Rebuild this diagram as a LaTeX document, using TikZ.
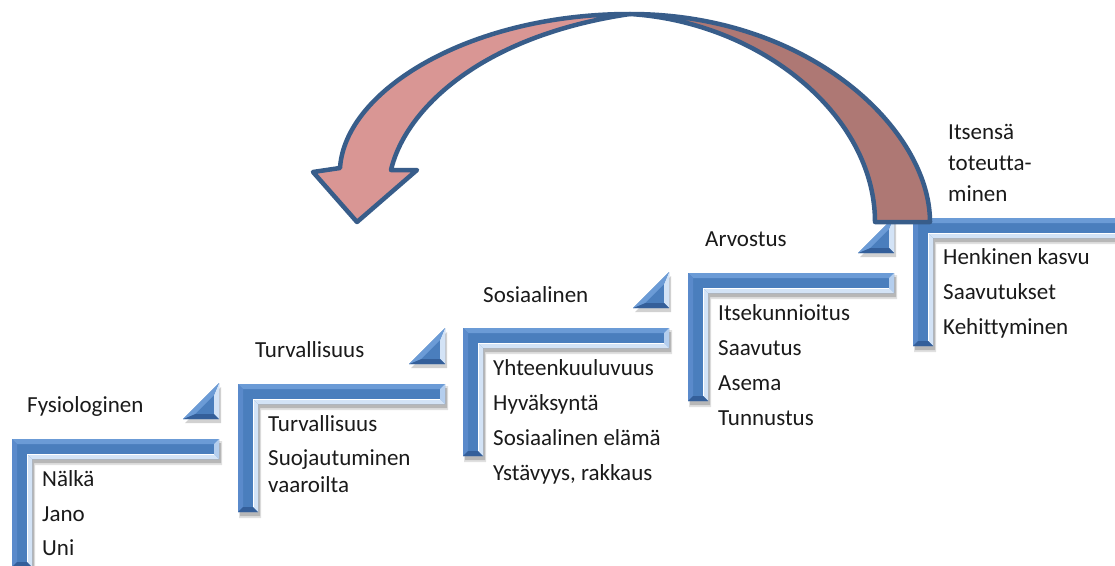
\documentclass[tikz,border=0pt]{standalone}
\usepackage{fontspec}
\setmainfont{Carlito}[Ligatures={NoCommon}]
\definecolor{txt}{HTML}{1A1A1A}
\definecolor{stairmain}{HTML}{4A7EBD}
\definecolor{stairtop}{HTML}{6B9BD6}
\definecolor{stairleft}{HTML}{5A8ACB}
\definecolor{stairlight}{HTML}{D3E3F6}
\definecolor{stairend}{HTML}{B4CEEE}
\definecolor{stairdark}{HTML}{345F9A}
\definecolor{arrowline}{HTML}{385D8A}
\definecolor{arrowlight}{HTML}{D99694}
\definecolor{arrowdark}{HTML}{AE7874}

% L-shaped bevelled stair: #1 = left x, #2 = top y, #3 = bar length
\newcommand\stairbar[3]{%
  \begin{scope}[shift={(#1,#2)}]
    \def\W{#3}\def\t{20}\def\b{5}\def\H{128}
    \fill[black,opacity=.18] (2,4) -- (\W+2,4) -- (\W+2,\t+4) -- (\t+2,\t+4) -- (\t+2,\H+4) -- (2,\H+4) -- cycle;
    \fill[black,opacity=.12] (1,2) -- (\W+3,2) -- (\W+3,\t+6) -- (\t+3,\t+6) -- (\t+3,\H+6) -- (1,\H+6) -- cycle;
    \fill[stairmain] (0,0) -- (\W,0) -- (\W,\t) -- (\t,\t) -- (\t,\H) -- (0,\H) -- cycle;
    \fill[stairtop] (0,0) -- (\W,0) -- (\W-\b,\b) -- (\b,\b) -- cycle;
    \fill[stairleft] (0,0) -- (\b,\b) -- (\b,\H-\b) -- (0,\H) -- cycle;
    \fill[stairend] (\W,0) -- (\W,\t) -- (\W-\b,\t-\b) -- (\W-\b,\b) -- cycle;
    \fill[stairlight] (\W,\t) -- (\t,\t) -- (\t-\b,\t-\b) -- (\W-\b,\t-\b) -- cycle;
    \fill[stairlight] (\t,\t) -- (\t,\H) -- (\t-\b,\H-\b) -- (\t-\b,\t-\b) -- cycle;
    \fill[stairdark] (0,\H) -- (\t,\H) -- (\t-\b,\H-\b) -- (\b,\H-\b) -- cycle;
    \draw[white,line width=1] (\W-\b,\t-\b) -- (\t-\b,\t-\b) -- (\t-\b,\H-\b);
  \end{scope}}

% small bevelled wedge: #1 = right x, #2 = bottom y
\newcommand\stairwedge[2]{%
  \begin{scope}[shift={(#1,#2)}]
    \fill[black,opacity=.18] (-34,4) -- (2,4) -- (2,-32) -- cycle;
    \fill[stairmain] (-36,0) -- (0,0) -- (0,-36) -- cycle;
    \fill[stairlight] (0,-36) -- (0,0) -- (-5,-5) -- (-5,-24) -- cycle;
    \fill[stairdark] (-36,0) -- (0,0) -- (-5,-5) -- (-24,-5) -- cycle;
    \fill[stairtop] (-36,0) -- (0,-36) -- (-5,-24) -- (-24,-5) -- cycle;
  \end{scope}}

\begin{document}
\begin{tikzpicture}[x=1pt,y=-1pt,
  lbl/.style={anchor=base west,inner sep=0pt,text=txt,font=\fontsize{23}{28}\selectfont},
  arrowpart/.style={draw=arrowline,line width=4.5pt,line join=round}]
\fill[white] (0,0) rectangle (1115,565);
\clip (0,0) rectangle (1115,565);

% stairs
\stairbar{12}{439}{207}
\stairbar{238}{384}{207}
\stairbar{463}{328}{206}
\stairbar{688}{273}{206}
\stairbar{913}{218}{215}
\stairwedge{219}{419}
\stairwedge{445}{364}
\stairwedge{669}{308}
\stairwedge{894}{253}

% curved return arrow
\filldraw[arrowpart,fill=arrowdark]
  (930,222) .. controls (930,130) and (810,14) .. (630,14)
  .. controls (760,22) and (875,115) .. (875,222) -- cycle;
\filldraw[arrowpart,fill=arrowlight]
  (630,14) .. controls (470,14) and (345,90) .. (340,168)
  -- (313,172) -- (357,222) -- (417,170) -- (391,170)
  .. controls (405,110) and (480,36) .. (630,14) -- cycle;

% level titles
\node[lbl] (h1) at (27,412) {Fysiologinen};
\node[lbl] (h2) at (255,357) {Turvallisuus};
\node[lbl] (h3) at (483,302) {Sosiaalinen};
\node[lbl] (h4) at (705,246) {Arvostus};
\node[lbl] (h5a) at (948,139) {Itsensä};
\node[lbl] (h5b) at (948,170) {toteutta-};
\node[lbl] (h5c) at (948,201) {minen};

% level contents
\node[lbl] (a1) at (42,486) {Nälkä};
\node[lbl] (a2) at (42,521) {Jano};
\node[lbl] (a3) at (42,555) {Uni};

\node[lbl] (b1) at (268,431) {Turvallisuus};
\node[lbl] (b2) at (268,465) {Suojautuminen};
\node[lbl] (b3) at (268,492) {vaaroilta};

\node[lbl] (c1) at (493,375) {Yhteenkuuluvuus};
\node[lbl] (c2) at (493,410) {Hyväksyntä};
\node[lbl] (c3) at (493,445) {Sosiaalinen elämä};
\node[lbl] (c4) at (493,480) {Ystävyys, rakkaus};

\node[lbl] (d1) at (718,320) {Itsekunnioitus};
\node[lbl] (d2) at (718,355) {Saavutus};
\node[lbl] (d3) at (718,390) {Asema};
\node[lbl] (d4) at (718,425) {Tunnustus};

\node[lbl] (e1) at (943,264) {Henkinen kasvu};
\node[lbl] (e2) at (943,299) {Saavutukset};
\node[lbl] (e3) at (943,334) {Kehittyminen};
\end{tikzpicture}
\end{document}
